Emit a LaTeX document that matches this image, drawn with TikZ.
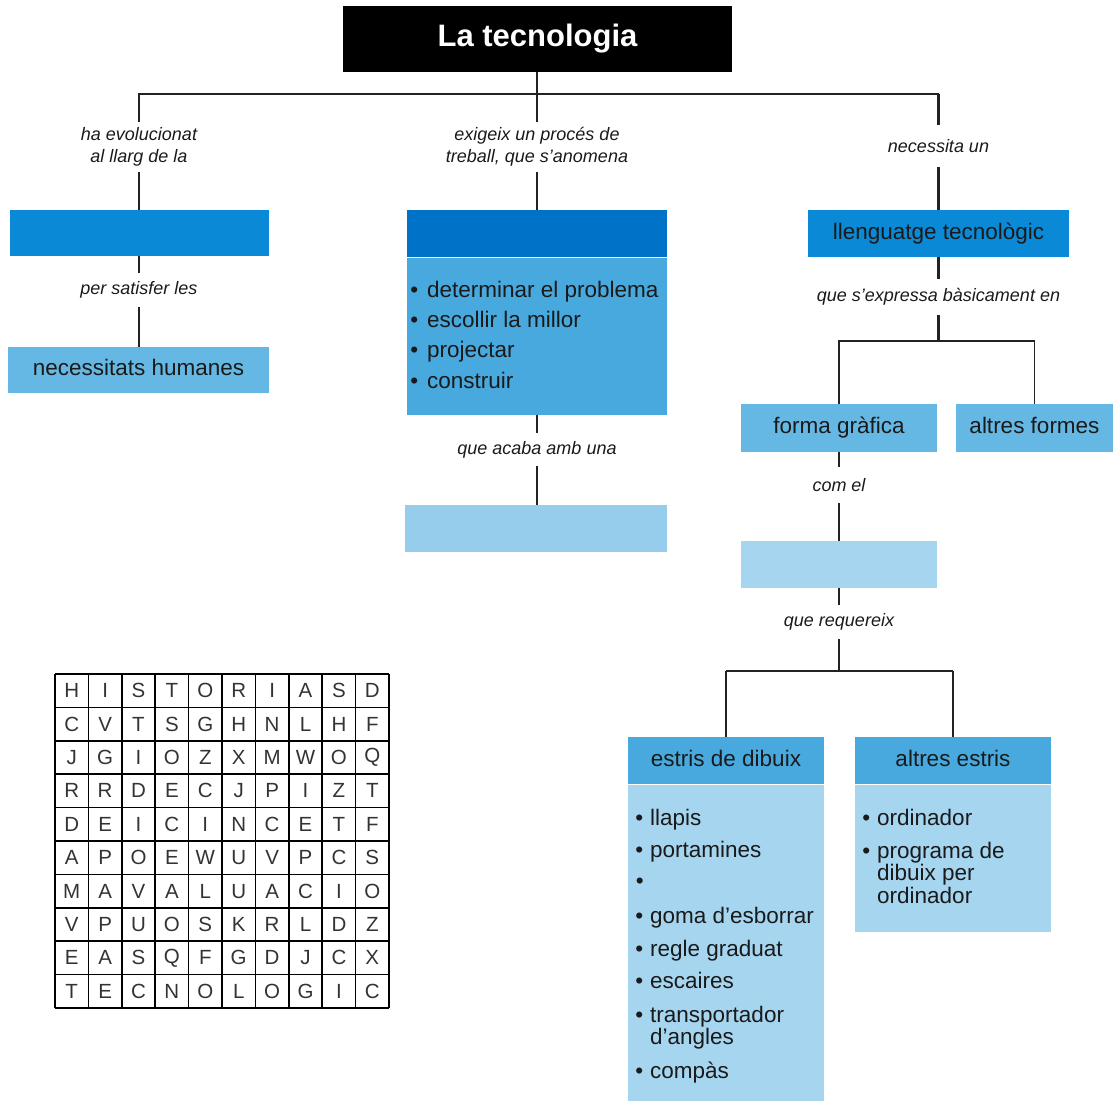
\documentclass[tikz,border=0pt]{standalone}
\usepackage{fontspec}
\setmainfont{Liberation Sans}
\definecolor{cdark}{HTML}{0072C8}
\definecolor{cmid}{HTML}{0A8AD6}
\definecolor{csky}{HTML}{66B8E4}
\definecolor{clist}{HTML}{47A9DE}
\definecolor{cpale}{HTML}{96CDEC}
\definecolor{cpaler}{HTML}{A6D5F0}
\definecolor{txt}{HTML}{1A1A1A}
\definecolor{lc}{HTML}{222222}
\tikzset{
  box/.style={rectangle, inner sep=0pt, text=txt, font=\fontsize{22.5}{26}\selectfont, text height=16pt, text depth=5pt},
  lab/.style={inner sep=0pt, align=center, text=txt, font=\itshape\fontsize{18}{22}\selectfont},
  thinln/.style={line width=1.3pt, draw=lc},
  thickln/.style={line width=2.6pt, draw=lc},
  itm/.style={anchor=base west, inner sep=0pt, text=txt, font=\fontsize{22.5}{22}\selectfont},
  gl/.style={inner sep=0pt, text=black!80, font=\fontsize{20.5}{22}\selectfont},
}
\newcommand{\bl}[1]{\llap{\textbullet\kern#1pt}}
\begin{document}
\begin{tikzpicture}[x=1pt,y=-1pt]
\useasboundingbox (0,0) rectangle (1114,1101);
% title
\node[rectangle, fill=black, minimum width=389pt, minimum height=66pt, inner sep=0pt, text=white, font=\bfseries\fontsize{31}{34}\selectfont] (t) at (537.5,39) {La tecnologia};
\coordinate (bus) at (0,94);
% boxes
\node[box, fill=cmid, minimum width=259pt, minimum height=46pt] (b1) at (139.5,233) {};
\node[box, fill=csky, minimum width=261pt, minimum height=46pt] (b2) at (138.5,370) {necessitats humanes};
\node[box, fill=cdark, minimum width=260pt, minimum height=47pt] (b3) at (537,233.5) {};
\node[box, fill=clist, minimum width=260pt, minimum height=157pt] (b3l) at (537,336.5) {};
\node[box, fill=cpale, minimum width=262pt, minimum height=47pt] (b4) at (536,528.5) {};
\node[box, fill=cmid, minimum width=261pt, minimum height=47pt] (b5) at (938.5,233.5) {llenguatge tecnològic};
\node[box, fill=csky, minimum width=196pt, minimum height=48pt] (b6) at (839,428) {forma gràfica};
\node[box, fill=csky, minimum width=157pt, minimum height=48pt] (b7) at (1034.5,428) {altres formes};
\node[box, fill=cpaler, minimum width=196pt, minimum height=47pt] (b8) at (839,564.5) {};
\node[box, fill=clist, minimum width=196pt, minimum height=47pt] (b9) at (726,760.5) {estris de dibuix};
\node[box, fill=cpaler, minimum width=196pt, minimum height=316pt] (b9l) at (726,943) {};
\node[box, fill=clist, minimum width=196pt, minimum height=47pt] (b10) at (953,760.5) {altres estris};
\node[box, fill=cpaler, minimum width=196pt, minimum height=147pt] (b10l) at (953,858.5) {};
% labels
\node[lab, minimum height=50pt] (l1) at (139,147) {ha evolucionat\\al llarg de la};
\node[lab, minimum height=50pt] (l2) at (537,147) {exigeix un procés de\\treball, que s’anomena};
\node[lab, minimum height=42pt] (l3) at (938.5,146) {necessita un};
\node[lab, minimum height=34pt] (l4) at (139,290) {per satisfer les};
\node[lab, minimum height=36pt] (l5) at (938.5,297) {que s’expressa bàsicament en};
\node[lab, minimum height=33pt] (l6) at (537,449.5) {que acaba amb una};
\node[lab, minimum height=36pt] (l7) at (839,485) {com el};
\node[lab, minimum height=34pt] (l8) at (839,622) {que requereix};
% middle list
\node[itm] (m1) at (427,297.5) {\bl{9}determinar el problema};
\node[itm] (m2) at (427,327.5) {\bl{9}escollir la millor};
\node[itm] (m3) at (427,357.5) {\bl{9}projectar};
\node[itm] (m4) at (427,388) {\bl{9}construir};
% estris de dibuix list
\node[itm] (e1) at (650,825) {\bl{7}llapis};
\node[itm] (e2) at (650,857) {\bl{7}portamines};
\node[itm] (e3) at (650,888.5) {\bl{7}\strut};
\node[itm] (e4) at (650,923) {\bl{7}goma d’esborrar};
\node[itm] (e5) at (650,956.5) {\bl{7}regle graduat};
\node[itm] (e6) at (650,988.5) {\bl{7}escaires};
\node[itm] (e7) at (650,1022) {\bl{7}transportador};
\node[itm] (e7b) at (650,1044) {d’angles};
\node[itm] (e8) at (650,1078) {\bl{7}compàs};
% altres estris list
\node[itm] (a1) at (877,825) {\bl{7}ordinador};
\node[itm] (a2) at (877,858) {\bl{7}programa de};
\node[itm] (a2b) at (877,880) {dibuix per};
\node[itm] (a2c) at (877,903) {ordinador};
% connectors (all vertical, aligned on the label / junction x)
\draw[thinln] (l2.north |- t.south) -- (l2.north |- bus);
\draw[thinln] (l1.north) -- (l1.north |- bus) -- (l3.north |- bus);
\draw[thickln] (l3.north |- bus) -- (l3.north);
\draw[thinln] (l2.north |- bus) -- (l2.north);
\draw[thinln] (l1.south) -- (l1.south |- b1.north);
\draw[thinln] (l4.north |- b1.south) -- (l4.north);
\draw[thinln] (l4.south) -- (l4.south |- b2.north);
\draw[thinln] (l2.south) -- (l2.south |- b3.north);
\draw[thinln] (l6.north |- b3l.south) -- (l6.north);
\draw[thinln] (l6.south) -- (l6.south |- b4.north);
\draw[thickln] (l3.south) -- (l3.south |- b5.north);
\draw[thickln] (l5.north |- b5.south) -- (l5.north);
\coordinate (j1) at (938.5,341);
\draw[thickln] (l5.south) -- (j1);
\draw[thinln] (b6.north) -- (b6.north |- j1) -- (b7.north |- j1) -- (b7.north);
\draw[thinln] (b6.south) -- (l7.north);
\draw[thinln] (l7.south) -- (b8.north);
\draw[thinln] (b8.south) -- (l8.north);
\coordinate (j2) at (839,671);
\draw[thinln] (l8.south) -- (j2);
\draw[thickln] (b9.north |- j2) -- (b10.north |- j2);
\draw[thinln] (b9.north |- j2) -- (b9.north);
\draw[thinln] (b10.north |- j2) -- (b10.north);
% word grid
\foreach \i in {0,...,10} {
  \draw[line width=1.6pt, draw=black] ({55+33.4*\i},674) -- ({55+33.4*\i},1008);
  \draw[line width=1.6pt, draw=black] (55,{674+33.4*\i}) -- (389,{674+33.4*\i});
}
\foreach \row [count=\r] in {{H,I,S,T,O,R,I,A,S,D},{C,V,T,S,G,H,N,L,H,F},{J,G,I,O,Z,X,M,W,O,Q},{R,R,D,E,C,J,P,I,Z,T},{D,E,I,C,I,N,C,E,T,F},{A,P,O,E,W,U,V,P,C,S},{M,A,V,A,L,U,A,C,I,O},{V,P,U,O,S,K,R,L,D,Z},{E,A,S,Q,F,G,D,J,C,X},{T,E,C,N,O,L,O,G,I,C}} {
  \foreach \ch [count=\c] in \row {
    \node[gl] (g\r-\c) at ({55+33.4*(\c-0.5)},{674+33.4*(\r-0.5)}) {\ch};
  }
}
\end{tikzpicture}
\end{document}
